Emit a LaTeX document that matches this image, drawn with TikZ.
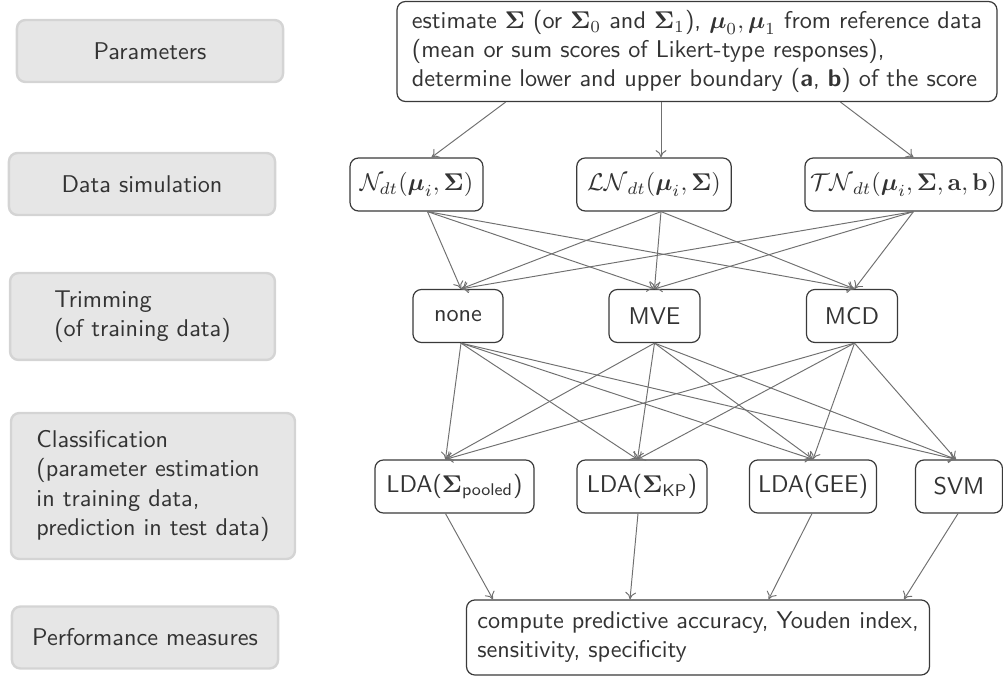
\documentclass[tikz,border=0pt]{standalone}
\usepackage{amsmath,amssymb}
\renewcommand{\familydefault}{\sfdefault}
\usetikzlibrary{calc,arrows.meta}
\definecolor{txt}{HTML}{333333}
\definecolor{bord}{HTML}{3A3A3A}
\definecolor{arr}{HTML}{707070}
\definecolor{grayfill}{HTML}{E6E6E6}
\definecolor{grayline}{HTML}{D4D4D4}
\begin{document}
\begin{tikzpicture}[x=0.413pt,y=-0.413pt,
  phase/.style={draw=grayline,fill=grayfill,line width=1pt,rounded corners=3.5pt,
    text=txt,align=left,inner sep=2pt,minimum width=109.9pt,minimum height=25.6pt},
  box/.style={draw=bord,fill=white,line width=0.5pt,rounded corners=3.5pt,
    text=txt,inner sep=2pt,minimum height=21.9pt},
  conn/.style={draw=arr,line width=0.4pt,-{To[length=3pt,width=4.5pt]}}]
\useasboundingbox (0,0) rectangle (1003,677);

% left phase boxes
\node[phase] (P) at (150,51) {Parameters};
\node[phase] (DS) at (142,184) {Data simulation};
\node[phase,minimum width=109.4pt,minimum height=35.9pt] (TR) at (142.5,316.5) {Trimming\\(of training data)};
\node[phase,minimum width=117.3pt,minimum height=60.3pt] (CL) at (153,486) {Classification\\(parameter estimation\\in training data,\\prediction in test data)};
\node[phase] (PM) at (145,637.5) {Performance measures};

% top
\node[box,align=left,minimum width=247.8pt,minimum height=41.3pt] (top) at (697,51.5)
 {estimate $\boldsymbol{\Sigma}$ (or $\boldsymbol{\Sigma}_0$ and $\boldsymbol{\Sigma}_1$), $\boldsymbol{\mu}_0, \boldsymbol{\mu}_1$ from reference data\\
  (mean or sum scores of Likert-type responses),\\
  determine lower and upper boundary (\textbf{a}, \textbf{b}) of the score};

% data simulation
\node[box,minimum width=54.9pt] (N) at (416.5,184.5) {$\mathcal{N}_{dt}(\boldsymbol{\mu}_i, \boldsymbol{\Sigma})$};
\node[box,minimum width=63.8pt] (LN) at (654,184.5) {$\mathcal{LN}_{dt}(\boldsymbol{\mu}_i, \boldsymbol{\Sigma})$};
\node[box,minimum width=81.4pt] (TN) at (903.5,184.5) {$\mathcal{TN}_{dt}(\boldsymbol{\mu}_i, \boldsymbol{\Sigma}, \mathbf{a}, \mathbf{b})$};

% trimming
\node[box,minimum width=37.2pt] (none) at (458,316) {none};
\node[box,minimum width=37.6pt] (MVE) at (654.5,316) {MVE};
\node[box,minimum width=37.6pt] (MCD) at (852,316) {MCD};

% classification
\node[box,minimum width=65.7pt] (pool) at (454.5,486.5) {LDA($\boldsymbol{\Sigma}_{\text{pooled}}$)};
\node[box,minimum width=53.7pt] (KP) at (642,486.5) {LDA($\boldsymbol{\Sigma}_{\text{KP}}$)};
\node[box,minimum width=52.5pt] (GEE) at (813,486.5) {LDA(GEE)};
\node[box,minimum width=35.9pt] (SVM) at (959,486.5) {SVM};

% performance
\node[box,align=left,minimum width=191.2pt,minimum height=31pt] (perf) at (698,637.5)
 {compute predictive accuracy, Youden index,\\sensitivity, specificity};

% connectors: top -> data simulation
\draw[conn] ($(top.south)+(-191.4,0)$) -- ($(N.north)+(15,0)$);
\draw[conn] ($(top.south)+(-36,0)$) -- ($(LN.north)+(7,0)$);
\draw[conn] ($(top.south)+(143.5,0)$) -- ($(TN.north)+(10,0)$);

% data simulation -> trimming
\foreach \s/\so in {N/11,LN/7,TN/10}{
  \foreach \t/\to in {none/3,MVE/0,MCD/2.5}{
    \draw[conn] ($(\s.south)+(\so,0)$) -- ($(\t.north)+(\to,0)$);
  }
}

% trimming -> classification
\foreach \s/\so in {none/3,MVE/0,MCD/2.5}{
  \foreach \t/\to in {pool/-9,KP/-4.5,GEE/0,SVM/-3}{
    \draw[conn] ($(\s.south)+(\so,0)$) -- ($(\t.north)+(\to,0)$);
  }
}

% classification -> performance
\draw[conn] ($(pool.south)+(-9,0)$) -- ($(perf.north)+(-205,0)$);
\draw[conn] ($(KP.south)+(-4,0)$) -- ($(perf.north)+(-68,0)$);
\draw[conn] ($(GEE.south)+(-1,0)$) -- ($(perf.north)+(70.6,0)$);
\draw[conn] ($(SVM.south)+(-1,0)$) -- ($(perf.north)+(206,0)$);
\end{tikzpicture}
\end{document}
